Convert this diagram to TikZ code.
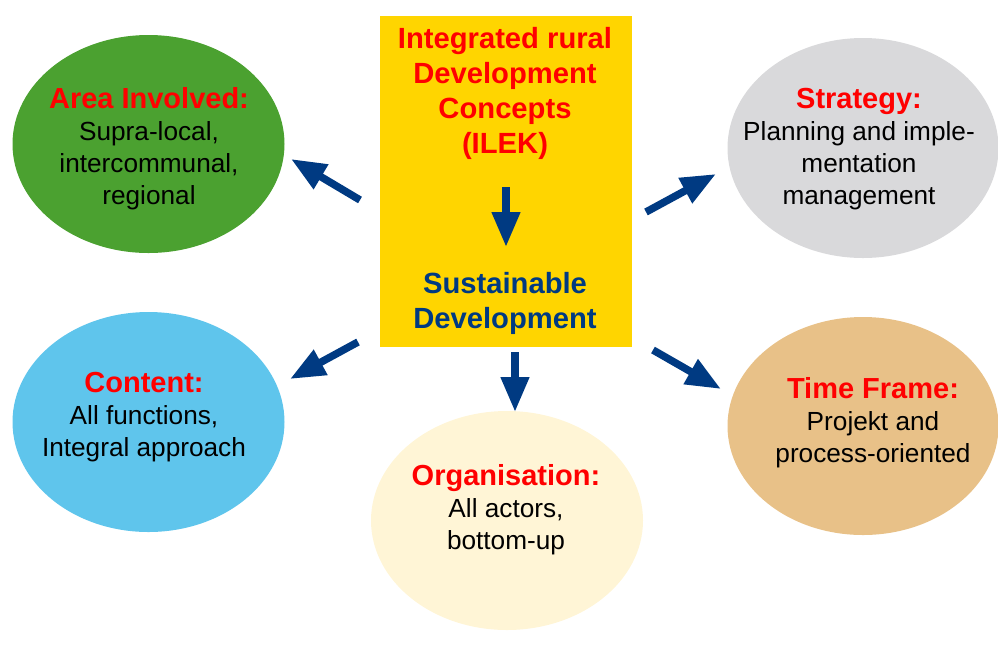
\documentclass[tikz,border=0pt]{standalone}
\usepackage{fontspec}
\setmainfont{Liberation Sans}
\usetikzlibrary{shapes.geometric,arrows.meta}
\definecolor{cgreen}{RGB}{75,161,48}
\definecolor{cgray}{RGB}{217,217,219}
\definecolor{cblue}{RGB}{95,197,236}
\definecolor{ccream}{RGB}{255,245,214}
\definecolor{ctan}{RGB}{232,193,136}
\definecolor{cyellow}{RGB}{255,213,0}
\definecolor{cnavy}{RGB}{0,58,130}
\definecolor{cred}{RGB}{255,0,0}
\tikzset{
  blob/.style={ellipse, inner sep=0pt, draw=none},
  txt/.style={align=center, inner sep=0pt, font=\fontsize{26.2}{32}\selectfont},
  ttl/.style={align=center, inner sep=0pt, font=\fontsize{29.2}{35}\selectfont\bfseries},
  bigarrow/.style={draw=cnavy, line width=7.5pt, -{Triangle[length=35pt,width=27pt]}, fill=cnavy},
}
\newcommand{\hd}[1]{{\fontsize{29}{32}\selectfont\bfseries\color{cred}#1}}
\begin{document}
\begin{tikzpicture}[x=1pt,y=-1pt]
\useasboundingbox (0,0) rectangle (998,649);
% central box
\node[fill=cyellow, minimum width=252pt, minimum height=331pt, inner sep=0pt] (box) at (506,181.5) {};
\node[ttl, text=cred] (title) at (505,93) {Integrated rural\\Development\\Concepts\\(ILEK)};
\node[ttl, text=cnavy] (sust) at (505,303.5) {Sustainable\\Development};
% ellipses
\node[blob, fill=cgreen, minimum width=272pt, minimum height=218pt] (area) at (148.5,144) {};
\node[blob, fill=cgray, minimum width=271pt, minimum height=220pt] (strat) at (863,148) {};
\node[blob, fill=cblue, minimum width=272pt, minimum height=220pt] (cont) at (148.5,422) {};
\node[blob, fill=ccream, minimum width=272pt, minimum height=219pt] (org) at (507,520.5) {};
\node[blob, fill=ctan, minimum width=271pt, minimum height=218pt] (time) at (863,426) {};
% texts
\node[txt] (areat) at (149,148.5) {\hd{Area Involved:}\\Supra-local,\\intercommunal,\\regional};
\node[txt] (stratt) at (859,149) {\hd{Strategy:}\\Planning and imple-\\mentation\\management};
\node[txt] (contt) at (144,417) {\hd{Content:}\\All functions,\\Integral approach};
\node[txt] (orgt) at (506,510) {\hd{Organisation:}\\All actors,\\bottom-up};
\node[txt] (timet) at (873,423) {\hd{Time Frame:}\\Projekt and\\process-oriented};
% arrow end points
\coordinate (a1s) at (360,200); \coordinate (a1e) at (291,159);
\coordinate (a2s) at (646,212); \coordinate (a2e) at (716,174);
\coordinate (a3s) at (358,342); \coordinate (a3e) at (290,379);
\coordinate (a4s) at (653,350); \coordinate (a4e) at (721,389);
\coordinate (a5s) at (515,352); \coordinate (a5e) at (515,412);
\coordinate (a6s) at (506,187); \coordinate (a6e) at (506,247);
\draw[bigarrow] (a1s) -- (a1e);
\draw[bigarrow] (a2s) -- (a2e);
\draw[bigarrow] (a3s) -- (a3e);
\draw[bigarrow] (a4s) -- (a4e);
\draw[bigarrow] (a5s) -- (a5e);
\draw[bigarrow] (a6s) -- (a6e);
\end{tikzpicture}
\end{document}
